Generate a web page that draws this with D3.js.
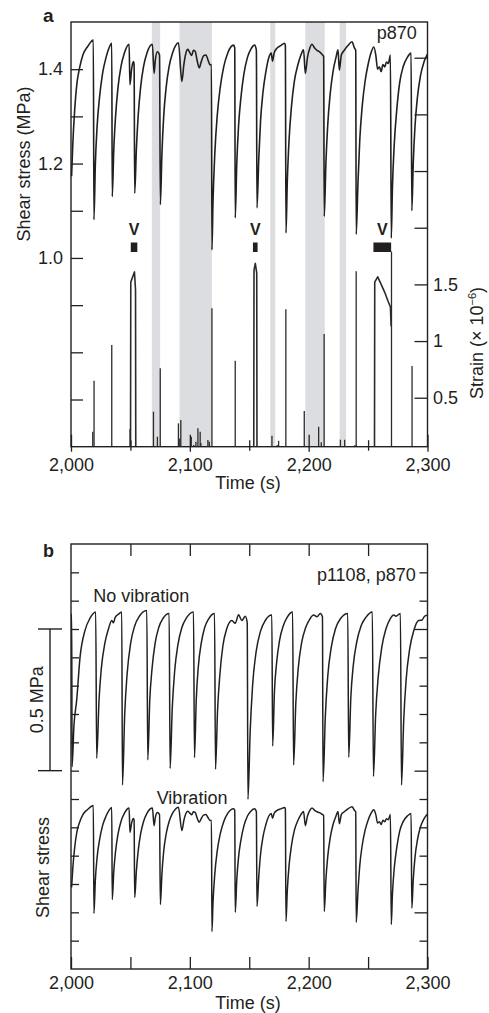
<!DOCTYPE html>
<html>
<head>
<meta charset="utf-8">
<script src="https://cdn.jsdelivr.net/npm/d3@7"></script>
<style>
  body { margin: 0; background: #fff; }
  svg text { font-family: "Liberation Sans", Arial, Helvetica, sans-serif; fill: #231f20; }
</style>
</head>
<body>
<svg id="fig" width="489" height="1013"></svg>
<script>
// ---- data ----
const timeTicks = [2000, 2100, 2200, 2300];
const minorTimeTicks = [2050, 2150, 2250];
const stressLabelsA = [1.0, 1.2, 1.4];
const stressTicksA = [0.7, 0.8, 0.9, 1.0, 1.1, 1.2, 1.3, 1.4];
const strainLabels = [0.5, 1, 1.5];
const strainTicks = [0.5, 1, 1.5, 2, 2.5, 3, 3.5];
const stressTicksB = [-0.1, 0, 0.1, 0.2, 0.3, 0.4, 0.5, 0.6, 0.7, 0.8, 0.9, 1.0, 1.1, 1.2];
const stressMajorB = [0, 0.5, 1.0];
const scaleBarB = [0.5, 1.0];

// grey bands (s)
const quietBands = [[2068, 2075], [2091.3, 2118.6], [2167.7, 2171.9], [2197.2, 2213.5], [2226.1, 2231.5]];
// vibration windows "V" (s)
const vibStart = [2050.3, 2153.1, 2254.5];
const vibEnd = [2055.8, 2157.0, 2269.4];

// p870 shear stress (MPa)
const p870 = [
  [2000.5,1.173],[2001.5,1.24],[2003,1.31],[2005,1.37],[2007,1.40],[2010,1.43],[2014,1.448],[2018.8,1.462],
  [2019.3,1.081],[2020.5,1.2],[2022,1.28],[2024,1.34],[2026.5,1.39],[2029.5,1.425],[2032,1.445],[2034.3,1.455],
  [2034.7,1.130],[2036,1.23],[2037.5,1.3],[2039.5,1.36],[2042,1.405],[2045,1.435],[2048.9,1.453],[2049.6,1.367],[2051,1.40],[2052.5,1.416],[2053.1,1.41],
  [2053.6,1.137],[2055,1.23],[2056.5,1.3],[2058.5,1.36],[2061,1.405],[2064,1.435],[2068.5,1.453],[2069.9,1.391],[2071,1.42],[2072.7,1.437],[2074.5,1.43],
  [2075.2,1.113],[2076.5,1.22],[2078,1.3],[2080,1.36],[2082.5,1.405],[2085.5,1.435],[2088,1.45],[2090.4,1.456],[2093.3,1.374],[2095,1.41],[2096.5,1.432],[2098.3,1.442],[2100,1.435],[2101.6,1.429],[2103,1.44],[2104.5,1.438],[2106,1.42],[2107.9,1.403],[2109.5,1.415],[2111.5,1.428],[2113.5,1.43],[2115.5,1.418],[2117.1,1.409],[2118.2,1.41],
  [2118.6,1.017],[2119.5,1.12],[2121,1.22],[2123,1.3],[2125.5,1.36],[2128.5,1.405],[2132,1.435],[2136.8,1.451],[2137.8,1.445],
  [2138.2,1.085],[2139.5,1.2],[2141,1.28],[2143,1.34],[2145.5,1.39],[2148.5,1.425],[2151.5,1.443],[2154.5,1.451],[2156,1.44],
  [2156.5,1.106],[2158,1.21],[2159.5,1.29],[2161.5,1.35],[2164,1.395],[2166.5,1.425],[2168.5,1.434],[2169.6,1.417],[2171,1.435],[2173.5,1.445],[2176.5,1.45],[2179.8,1.455],[2180.4,1.45],
  [2180.9,1.053],[2182,1.16],[2183.5,1.25],[2185.5,1.32],[2188,1.375],[2191,1.41],[2193.5,1.43],[2195.7,1.441],[2197.2,1.391],[2199,1.425],[2201,1.445],[2202.8,1.453],[2205,1.445],[2207,1.44],[2209,1.437],[2211,1.432],[2212.6,1.427],
  [2213.1,1.088],[2214.5,1.2],[2216,1.28],[2218,1.345],[2220.5,1.395],[2223,1.425],[2224.7,1.441],[2225.8,1.398],[2227.5,1.43],[2230,1.44],[2233,1.45],[2236.5,1.458],[2238.5,1.445],[2239.6,1.44],
  [2240,1.05],[2241.5,1.16],[2243,1.25],[2245,1.32],[2247.5,1.375],[2250,1.41],[2252.5,1.435],[2254.8,1.447],[2256.5,1.43],[2258,1.40],[2259.5,1.405],[2261,1.395],[2262.5,1.41],[2264,1.405],[2265.5,1.415],[2267,1.412],[2268.8,1.43],
  [2269.5,1.042],[2270.5,1.15],[2272,1.24],[2274,1.31],[2276.5,1.37],[2279.5,1.405],[2283,1.425],[2286.2,1.434],
  [2286.8,1.10],[2288,1.2],[2289.5,1.28],[2291.5,1.34],[2294,1.385],[2297,1.415],[2300,1.432]
];

// strain spikes, p870 (x 10^-6)
const strainSpikes = [
  [2018.3,0.20],[2019.4,0.65],[2034.3,0.965],[2049.7,0.224],[2069.4,0.377],[2072.7,0.156],[2075.1,0.76],
  [2090.4,0.274],[2091.5,0.14],[2092.4,0.303],[2101.2,0.156],[2103.2,0.083],[2105.1,0.112],[2106.8,0.23],
  [2108.7,0.20],[2109.3,0.10],[2115.2,0.127],[2116.4,0.112],[2118.6,1.29],[2138.2,0.826],[2169.1,0.165],
  [2173.5,0.083],[2174.7,0.12],[2180.8,1.28],[2196.3,0.383],[2208.4,0.244],[2210.6,0.107],[2213.0,1.062],
  [2226.7,0.13],[2230.3,0.13],[2238.9,0.083],[2240.0,1.617],[2269.7,1.79],[2287.0,0.78]
];
// strain during the vibration windows
const strainVib = [
  [[2050.1,0.068],[2050.3,1.52],[2053.4,1.61],[2054.3,1.45],[2054.5,0.068]],
  [[2153.8,0.068],[2154.0,1.625],[2155.1,1.685],[2156.3,1.60],[2156.5,0.068]],
  [[2255.4,0.068],[2255.6,1.52],[2258.1,1.567],[2261,1.50],[2264,1.43],[2266.5,1.36],[2268.8,1.30],[2269.4,1.13]]
];

// p1108 shear stress, no vibration (MPa on panel b axis)
const p1108 = [
  [2000.0,1.050],[2000.6,1.052],[2000.9,0.514],[2002.5,0.66],[2004.8,0.75],[2007.6,0.90],[2011.8,0.995],[2016.0,1.038],[2020.8,1.060],
  [2021.6,0.544],[2023.6,0.75],[2025.5,0.86],[2028.5,0.95],[2031.5,1.00],[2034.3,1.03],[2035.7,1.022],[2037.1,1.04],[2039.9,1.052],[2042.7,1.06],
  [2043.3,0.449],[2045.2,0.70],[2047.2,0.84],[2050.2,0.95],[2053.5,1.01],[2057.5,1.045],[2063.8,1.065],
  [2064.6,0.538],[2066.3,0.75],[2068.2,0.86],[2070.8,0.95],[2073.8,1.005],[2077.5,1.038],[2082.6,1.055],
  [2083.4,0.508],[2085.2,0.72],[2087.2,0.85],[2090,0.945],[2093.3,1.005],[2097.3,1.04],[2103.1,1.06],
  [2103.9,0.546],[2105.4,0.75],[2107.2,0.87],[2109.6,0.95],[2112.5,1.005],[2116,1.037],[2120.8,1.055],
  [2121.6,0.505],[2123.3,0.71],[2125.3,0.84],[2127.8,0.94],[2131,1.0],[2135.4,1.03],[2138.2,1.02],[2141,1.05],[2143.8,1.03],[2146.6,1.045],[2148.3,1.022],
  [2148.9,0.399],[2150.8,0.64],[2152.8,0.80],[2155.8,0.92],[2159.3,0.99],[2163.5,1.03],[2169.0,1.049],
  [2169.7,0.587],[2171.2,0.78],[2173,0.88],[2175.5,0.96],[2178.5,1.01],[2182,1.042],[2186.5,1.06],
  [2187.3,0.520],[2189.2,0.74],[2191.2,0.86],[2194,0.95],[2197.5,1.005],[2201,1.035],[2204.2,1.049],[2207,1.043],[2209.8,1.055],[2211.6,1.043],
  [2212.1,0.461],[2214,0.69],[2216,0.83],[2219,0.935],[2222.5,1.0],[2227,1.038],[2232.9,1.055],
  [2233.7,0.547],[2235.5,0.76],[2237.5,0.87],[2240.5,0.955],[2244,1.01],[2248,1.04],[2253.6,1.06],
  [2254.5,0.479],[2256.4,0.70],[2258.5,0.83],[2261.5,0.935],[2265,1.0],[2268.5,1.035],[2271.6,1.049],[2273.5,1.045],[2277.2,1.055],
  [2278.1,0.449],[2280,0.68],[2282,0.82],[2285,0.93],[2288.5,0.995],[2292.5,1.03],[2295.5,1.032],[2297.5,1.045],[2300,1.049]
];
// p870 is shifted down by this much (MPa) to sit under p1108 in panel b
const vibOffsetB = 1.085;

// ---- drawing ----
const ink = "#231f20";
const fontSize = 18;
const svg = d3.select("#fig");

const x = d3.scaleLinear().domain([2000, 2300]).range([71, 427.5]);
const yA = d3.scaleLinear().domain([0.6, 1.5]).range([446.7, 22]);
const yS = d3.scaleLinear().domain([0.068, 3.815]).range([446.7, 22]);
const yB = d3.scaleLinear().domain([-0.2, 1.3]).range([969, 544]);

const near = (arr, d) => arr.some(v => Math.abs(v - d) < 1e-6);

function styleAxis(g) {
  g.attr("font-size", fontSize).attr("font-family", null).style("color", ink);
  g.select(".domain").remove();
  g.selectAll(".tick line").attr("stroke-width", 1.3);
}

// ---------- panel a ----------
const gA = svg.append("g");

gA.selectAll("rect.band").data(quietBands).join("rect")
  .attr("class", "band")
  .attr("x", d => x(d[0]))
  .attr("width", d => x(d[1]) - x(d[0]))
  .attr("y", yA.range()[1])
  .attr("height", yA.range()[0] - yA.range()[1])
  .attr("fill", "#dcdde0");

// strain
gA.selectAll("line.spike").data(strainSpikes).join("line")
  .attr("class", "spike")
  .attr("x1", d => x(d[0])).attr("x2", d => x(d[0]))
  .attr("y1", yS.range()[0]).attr("y2", d => yS(d[1]))
  .attr("stroke", "#2b2b2b").attr("stroke-width", 1.3);

const strainLine = d3.line().x(d => x(d[0])).y(d => yS(d[1]));
gA.selectAll("path.vibstrain").data(strainVib).join("path")
  .attr("class", "vibstrain")
  .attr("d", strainLine)
  .attr("fill", "none").attr("stroke", "#2b2b2b").attr("stroke-width", 1.6)
  .attr("stroke-linejoin", "round");

// stress
const stressLineA = d3.line().x(d => x(d[0])).y(d => yA(d[1])).curve(d3.curveMonotoneX);
gA.append("path").datum(p870)
  .attr("d", stressLineA)
  .attr("fill", "none").attr("stroke", ink).attr("stroke-width", 1.6)
  .attr("stroke-linejoin", "round");

// vibration markers
const vib = vibStart.map((s, i) => [s, vibEnd[i]]);
gA.selectAll("rect.vib").data(vib).join("rect")
  .attr("class", "vib")
  .attr("x", d => x(d[0])).attr("width", d => x(d[1]) - x(d[0]))
  .attr("y", 242.5).attr("height", 9.5)
  .attr("fill", ink);
gA.selectAll("text.vlab").data(vib).join("text")
  .attr("class", "vlab")
  .attr("x", d => x((d[0] + d[1]) / 2)).attr("y", 235)
  .attr("text-anchor", "middle")
  .attr("font-size", 16).attr("font-weight", "bold")
  .text("V");

// axes
gA.append("g").attr("transform", `translate(0,${yA.range()[0]})`)
  .call(d3.axisBottom(x).tickValues(timeTicks.concat(minorTimeTicks))
    .tickSizeInner(5).tickPadding(7)
    .tickFormat(d => near(timeTicks, d) ? d3.format(",")(d) : ""))
  .call(styleAxis)
  .call(g => g.selectAll(".tick line")
    .attr("y1", d => near(timeTicks, d) ? -12 : -6.5)
    .attr("y2", d => near(timeTicks, d) ? 5 : 4));

gA.append("g").attr("transform", `translate(${x.range()[0]},0)`)
  .call(d3.axisLeft(yA).tickValues(stressTicksA).tickSize(-12).tickPadding(8)
    .tickFormat(d => near(stressLabelsA, d) ? d3.format(".1f")(d) : ""))
  .call(styleAxis);

gA.append("g").attr("transform", `translate(${x.range()[1]},0)`)
  .call(d3.axisRight(yS).tickValues(strainTicks).tickSize(-13).tickPadding(5.5)
    .tickFormat(d => near(strainLabels, d) ? String(d) : ""))
  .call(styleAxis);

gA.append("rect")
  .attr("x", x.range()[0]).attr("y", yA.range()[1])
  .attr("width", x.range()[1] - x.range()[0])
  .attr("height", yA.range()[0] - yA.range()[1])
  .attr("fill", "none").attr("stroke", ink).attr("stroke-width", 1.4);

gA.append("text").attr("x", 43).attr("y", 21.7)
  .attr("font-size", 19).attr("font-weight", "bold").text("a");
gA.append("text").attr("x", 416.7).attr("y", 39.3)
  .attr("text-anchor", "end").attr("font-size", fontSize).text("p870");
gA.append("text").attr("x", 248).attr("y", 489.2)
  .attr("text-anchor", "middle").attr("font-size", fontSize).text("Time (s)");
gA.append("text").attr("transform", "translate(29.5,164) rotate(-90)")
  .attr("text-anchor", "middle").attr("font-size", fontSize).text("Shear stress (MPa)");
const strainLab = gA.append("text").attr("transform", "translate(483,343) rotate(-90)")
  .attr("text-anchor", "middle").attr("font-size", fontSize);
strainLab.append("tspan").text("Strain (\u00d7 10");
strainLab.append("tspan").attr("dy", -7).attr("font-size", 11).text("\u22126");
strainLab.append("tspan").attr("dy", 7).text(")");

// ---------- panel b ----------
const gB = svg.append("g");

gB.append("g").attr("transform", `translate(${x.range()[0]},0)`)
  .call(d3.axisLeft(yB).tickValues(stressTicksB).tickSize(-8).tickFormat(""))
  .call(styleAxis);
gB.append("g").attr("transform", `translate(${x.range()[1]},0)`)
  .call(d3.axisRight(yB).tickValues(stressTicksB).tickSize(-8).tickFormat(""))
  .call(styleAxis)
  .call(g => g.selectAll(".tick line").attr("x2", d => near(stressMajorB, d) ? -13 : -8));
gB.append("g").attr("transform", `translate(0,${yB.range()[1]})`)
  .call(d3.axisTop(x).tickValues(minorTimeTicks.concat([2100, 2200])).tickSize(-12).tickFormat(""))
  .call(styleAxis);
gB.append("g").attr("transform", `translate(0,${yB.range()[0]})`)
  .call(d3.axisBottom(x).tickValues(timeTicks.concat(minorTimeTicks)).tickSize(-12).tickPadding(7)
    .tickFormat(d => near(timeTicks, d) ? d3.format(",")(d) : ""))
  .call(styleAxis);

const lineB1108 = d3.line().x(d => x(d[0])).y(d => yB(d[1])).curve(d3.curveMonotoneX);
const lineB870 = d3.line().x(d => x(d[0])).y(d => yB(d[1] - vibOffsetB)).curve(d3.curveMonotoneX);
gB.append("path").datum(p1108).attr("d", lineB1108)
  .attr("fill", "none").attr("stroke", ink).attr("stroke-width", 1.5).attr("stroke-linejoin", "round");
gB.append("path").datum(p870).attr("d", lineB870)
  .attr("fill", "none").attr("stroke", ink).attr("stroke-width", 1.5).attr("stroke-linejoin", "round");

gB.append("rect")
  .attr("x", x.range()[0]).attr("y", yB.range()[1])
  .attr("width", x.range()[1] - x.range()[0])
  .attr("height", yB.range()[0] - yB.range()[1])
  .attr("fill", "none").attr("stroke", ink).attr("stroke-width", 1.4);

// 0.5 MPa scale bar
const bar = gB.append("g").attr("stroke", ink).attr("stroke-width", 1.4);
bar.append("line").attr("x1", 50).attr("x2", 50)
  .attr("y1", yB(scaleBarB[1])).attr("y2", yB(scaleBarB[0]));
bar.selectAll("line.cap").data(scaleBarB).join("line").attr("class", "cap")
  .attr("x1", 38).attr("x2", 62).attr("y1", d => yB(d)).attr("y2", d => yB(d));

gB.append("text").attr("x", 43).attr("y", 557.3)
  .attr("font-size", 18).attr("font-weight", "bold").text("b");
gB.append("text").attr("x", 415.7).attr("y", 580.5)
  .attr("text-anchor", "end").attr("font-size", fontSize).text("p1108, p870");
gB.append("text").attr("x", 93.3).attr("y", 601.7)
  .attr("font-size", fontSize).text("No vibration");
gB.append("text").attr("x", 156.7).attr("y", 804)
  .attr("font-size", fontSize).text("Vibration");
gB.append("text").attr("x", 248).attr("y", 1009)
  .attr("text-anchor", "middle").attr("font-size", fontSize).text("Time (s)");
gB.append("text").attr("transform", `translate(43,${(yB(scaleBarB[0]) + yB(scaleBarB[1])) / 2}) rotate(-90)`)
  .attr("text-anchor", "middle").attr("font-size", fontSize).text("0.5 MPa");
gB.append("text").attr("transform", "translate(49,867.5) rotate(-90)")
  .attr("text-anchor", "middle").attr("font-size", fontSize).text("Shear stress");
</script>
</body>
</html>
